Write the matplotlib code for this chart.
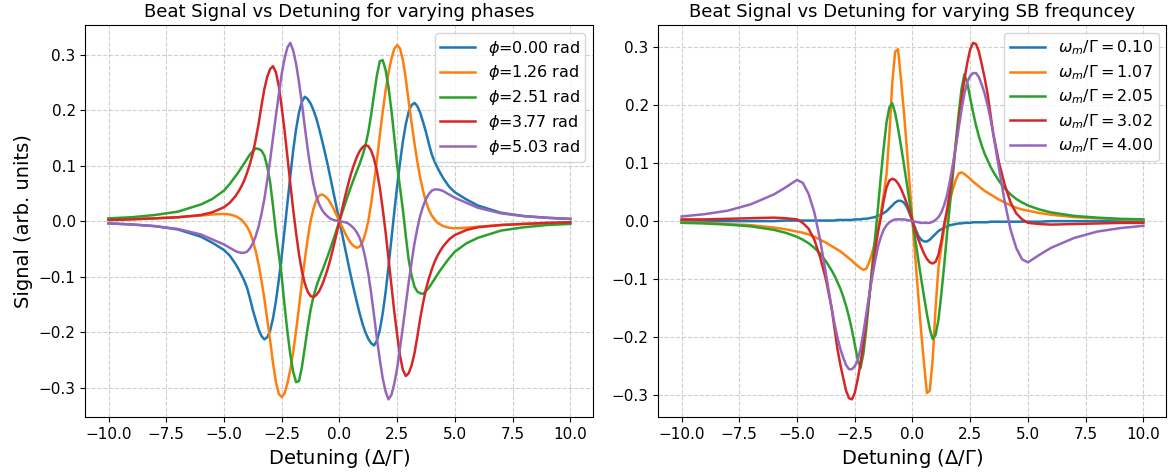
import matplotlib
matplotlib.use("Agg")
import matplotlib.pyplot as plt

# detuning samples (Delta/Gamma)
x_left = [-10, -9, -8, -7, -6, -5.5, -5, -4.75, -4.5, -4.375, -4.25, -4.125, -4, -3.875,
          -3.75, -3.625, -3.5, -3.375, -3.25, -3.125, -3, -2.875, -2.75, -2.625, -2.5,
          -2.375, -2.25, -2.125, -2, -1.875, -1.75, -1.625, -1.5, -1.375, -1.25, -1.125,
          -1, -0.875, -0.75, -0.625, -0.5, -0.375, -0.25, -0.125, 0,
          0.125, 0.25, 0.375, 0.5, 0.625, 0.75, 0.875, 1, 1.125, 1.25, 1.375, 1.5, 1.625,
          1.75, 1.875, 2, 2.125, 2.25, 2.375, 2.5, 2.625, 2.75, 2.875, 3, 3.125, 3.25,
          3.375, 3.5, 3.625, 3.75, 3.875, 4, 4.125, 4.25, 4.375, 4.5, 4.75, 5, 5.5, 6,
          7, 8, 9, 10]

x_right = [-10, -9, -8, -7, -6, -5.5, -5, -4.75, -4.5, -4.25, -4, -3.75, -3.5, -3.375,
           -3.25, -3.125, -3, -2.875, -2.75, -2.625, -2.5, -2.375, -2.25, -2.125, -2,
           -1.875, -1.75, -1.625, -1.5, -1.375, -1.25, -1.125, -1, -0.875, -0.75, -0.625,
           -0.5, -0.375, -0.25, -0.125, 0,
           0.125, 0.25, 0.375, 0.5, 0.625, 0.75, 0.875, 1, 1.125, 1.25, 1.375, 1.5, 1.625,
           1.75, 1.875, 2, 2.125, 2.25, 2.375, 2.5, 2.625, 2.75, 2.875, 3, 3.125, 3.25,
           3.375, 3.5, 3.75, 4, 4.25, 4.5, 4.75, 5, 5.5, 6, 7, 8, 9, 10]

# left panel: phases
phases = [0.00, 1.26, 2.51, 3.77, 5.03]

sig_phi0 = [-0.004, -0.006, -0.009, -0.015, -0.028, -0.039, -0.052, -0.062, -0.077, -0.086,
            -0.096, -0.107, -0.12, -0.139, -0.16, -0.178, -0.195, -0.207, -0.213, -0.209,
            -0.197, -0.175, -0.144, -0.106, -0.063, -0.016, 0.033, 0.082, 0.128, 0.166,
            0.196, 0.215, 0.224, 0.22, 0.212, 0.2, 0.185, 0.166, 0.145, 0.123, 0.1, 0.075,
            0.05, 0.025, 0,
            -0.025, -0.05, -0.075, -0.1, -0.123, -0.145, -0.166, -0.185, -0.2, -0.212,
            -0.22, -0.224, -0.215, -0.196, -0.166, -0.128, -0.082, -0.033, 0.016, 0.063,
            0.106, 0.144, 0.175, 0.197, 0.209, 0.213, 0.207, 0.195, 0.178, 0.16, 0.139,
            0.12, 0.107, 0.096, 0.086, 0.077, 0.062, 0.052, 0.039, 0.028, 0.015, 0.009,
            0.006, 0.004]
sig_phi1 = [0.003, 0.004, 0.005, 0.007, 0.01, 0.012, 0.013, 0.012, 0.009, 0.006, 0.003,
            -0.003, -0.01, -0.02, -0.035, -0.054, -0.078, -0.107, -0.14, -0.177, -0.215,
            -0.256, -0.29, -0.311, -0.317, -0.31, -0.292, -0.267, -0.235, -0.197, -0.155,
            -0.11, -0.07, -0.032, 0.0, 0.022, 0.038, 0.046, 0.048, 0.045, 0.04, 0.032,
            0.022, 0.011, 0,
            -0.011, -0.022, -0.032, -0.04, -0.045, -0.048, -0.046, -0.038, -0.022, 0.0,
            0.032, 0.07, 0.11, 0.155, 0.197, 0.235, 0.267, 0.292, 0.31, 0.317, 0.311, 0.29,
            0.256, 0.215, 0.177, 0.14, 0.107, 0.078, 0.054, 0.035, 0.02, 0.01, 0.003,
            -0.003, -0.006, -0.009, -0.012, -0.013, -0.012, -0.01, -0.007, -0.005, -0.004,
            -0.003]
sig_phi2 = [0.005, 0.007, 0.011, 0.017, 0.03, 0.04, 0.055, 0.067, 0.081, 0.088, 0.096,
            0.104, 0.112, 0.12, 0.126, 0.131, 0.13, 0.127, 0.118, 0.098, 0.07, 0.027,
            -0.02, -0.06, -0.1, -0.152, -0.2, -0.241, -0.272, -0.29, -0.288, -0.263,
            -0.228, -0.192, -0.16, -0.136, -0.118, -0.103, -0.09, -0.076, -0.062, -0.047,
            -0.032, -0.016, 0,
            0.016, 0.032, 0.047, 0.062, 0.076, 0.09, 0.103, 0.118, 0.136, 0.16, 0.192,
            0.228, 0.263, 0.288, 0.29, 0.272, 0.241, 0.2, 0.152, 0.1, 0.06, 0.02, -0.027,
            -0.07, -0.098, -0.118, -0.127, -0.13, -0.131, -0.126, -0.12, -0.112, -0.104,
            -0.096, -0.088, -0.081, -0.067, -0.055, -0.04, -0.03, -0.017, -0.011, -0.007,
            -0.005]
sig_phi3 = [0.002, 0.003, 0.005, 0.007, 0.011, 0.016, 0.025, 0.033, 0.045, 0.053, 0.062,
            0.073, 0.087, 0.103, 0.122, 0.147, 0.175, 0.208, 0.238, 0.26, 0.274, 0.279,
            0.268, 0.243, 0.205, 0.163, 0.115, 0.067, 0.02, -0.022, -0.06, -0.09, -0.112,
            -0.127, -0.135, -0.137, -0.133, -0.126, -0.115, -0.101, -0.085, -0.066,
            -0.045, -0.023, 0,
            0.023, 0.045, 0.066, 0.085, 0.101, 0.115, 0.126, 0.133, 0.137, 0.135, 0.127,
            0.112, 0.09, 0.06, 0.022, -0.02, -0.067, -0.115, -0.163, -0.205, -0.243,
            -0.268, -0.279, -0.274, -0.26, -0.238, -0.208, -0.175, -0.147, -0.122, -0.103,
            -0.087, -0.073, -0.062, -0.053, -0.045, -0.033, -0.025, -0.016, -0.011,
            -0.007, -0.005, -0.003, -0.002]
sig_phi4 = [-0.004, -0.006, -0.009, -0.014, -0.024, -0.033, -0.042, -0.048, -0.054, -0.056,
            -0.057, -0.057, -0.055, -0.049, -0.04, -0.027, -0.01, 0.013, 0.04, 0.074, 0.11,
            0.15, 0.19, 0.228, 0.265, 0.293, 0.313, 0.321, 0.307, 0.283, 0.25, 0.212, 0.17,
            0.13, 0.095, 0.067, 0.045, 0.03, 0.02, 0.013, 0.008, 0.004, 0.002, 0.001, 0,
            -0.001, -0.002, -0.004, -0.008, -0.013, -0.02, -0.03, -0.045, -0.067, -0.095,
            -0.13, -0.17, -0.212, -0.25, -0.283, -0.307, -0.321, -0.313, -0.293, -0.265,
            -0.228, -0.19, -0.15, -0.11, -0.074, -0.04, -0.013, 0.01, 0.027, 0.04, 0.049,
            0.055, 0.057, 0.057, 0.056, 0.054, 0.048, 0.042, 0.033, 0.024, 0.014, 0.009,
            0.006, 0.004]

# right panel: sideband frequencies
wm = [0.10, 1.07, 2.05, 3.02, 4.00]

sig_wm0 = [0, 0, 0, 0, 0, 0.001, 0.001, 0.001, 0.001, 0.001, 0.001, 0.001, 0.001, 0.001,
           0.002, 0.002, 0.002, 0.002, 0.002, 0.002, 0.003, 0.003, 0.003, 0.004, 0.004,
           0.005, 0.006, 0.007, 0.009, 0.011, 0.014, 0.017, 0.022, 0.027, 0.032, 0.035,
           0.035, 0.032, 0.025, 0.013, 0,
           -0.013, -0.025, -0.032, -0.035, -0.035, -0.032, -0.027, -0.022, -0.017, -0.014,
           -0.011, -0.009, -0.007, -0.006, -0.005, -0.004, -0.004, -0.003, -0.003, -0.003,
           -0.002, -0.002, -0.002, -0.002, -0.002, -0.002, -0.001, -0.001, -0.001, -0.001,
           -0.001, -0.001, -0.001, -0.001, -0.001, 0, 0, 0, 0, 0]
sig_wm1 = [-0.002, -0.003, -0.005, -0.007, -0.011, -0.014, -0.018, -0.02, -0.023, -0.027,
           -0.032, -0.037, -0.043, -0.046, -0.049, -0.052, -0.056, -0.06, -0.064, -0.068,
           -0.073, -0.077, -0.081, -0.084, -0.082, -0.071, -0.055, -0.037, -0.015, 0.012,
           0.045, 0.08, 0.15, 0.238, 0.292, 0.296, 0.245, 0.19, 0.128, 0.064, 0,
           -0.064, -0.128, -0.19, -0.245, -0.296, -0.292, -0.238, -0.15, -0.08, -0.045,
           -0.012, 0.015, 0.037, 0.055, 0.071, 0.082, 0.084, 0.081, 0.077, 0.073, 0.068,
           0.064, 0.06, 0.056, 0.052, 0.049, 0.046, 0.043, 0.037, 0.032, 0.027, 0.023,
           0.02, 0.018, 0.014, 0.011, 0.007, 0.005, 0.003, 0.002]
sig_wm2 = [-0.003, -0.004, -0.006, -0.009, -0.015, -0.02, -0.027, -0.032, -0.038, -0.046,
           -0.056, -0.069, -0.085, -0.094, -0.105, -0.116, -0.13, -0.146, -0.165, -0.187,
           -0.212, -0.238, -0.253, -0.228, -0.185, -0.135, -0.08, -0.03, 0.02, 0.075,
           0.125, 0.17, 0.196, 0.203, 0.186, 0.16, 0.13, 0.099, 0.066, 0.033, 0,
           -0.033, -0.066, -0.099, -0.13, -0.16, -0.186, -0.203, -0.196, -0.17, -0.125,
           -0.075, -0.02, 0.03, 0.08, 0.135, 0.185, 0.228, 0.253, 0.238, 0.212, 0.187,
           0.165, 0.146, 0.13, 0.116, 0.105, 0.094, 0.085, 0.069, 0.056, 0.046, 0.038,
           0.032, 0.027, 0.02, 0.015, 0.009, 0.006, 0.004, 0.003]
sig_wm3 = [0.003, 0.003, 0.004, 0.005, 0.006, 0.005, 0.003, -0.003, -0.013, -0.032, -0.062,
           -0.1, -0.15, -0.185, -0.22, -0.247, -0.27, -0.292, -0.305, -0.307, -0.296,
           -0.273, -0.245, -0.21, -0.17, -0.13, -0.09, -0.053, -0.02, 0.005, 0.035, 0.058,
           0.07, 0.073, 0.071, 0.065, 0.056, 0.044, 0.031, 0.016, 0,
           -0.016, -0.031, -0.044, -0.056, -0.065, -0.071, -0.073, -0.07, -0.058, -0.035,
           -0.005, 0.02, 0.053, 0.09, 0.13, 0.17, 0.21, 0.245, 0.273, 0.296, 0.307, 0.305,
           0.292, 0.27, 0.247, 0.22, 0.185, 0.15, 0.1, 0.062, 0.032, 0.013, 0.003, -0.003,
           -0.005, -0.006, -0.005, -0.004, -0.003, -0.003]
sig_wm4 = [0.008, 0.012, 0.018, 0.029, 0.046, 0.058, 0.071, 0.066, 0.047, 0.015, -0.032,
           -0.09, -0.15, -0.177, -0.2, -0.22, -0.235, -0.248, -0.255, -0.255, -0.25, -0.24,
           -0.22, -0.192, -0.16, -0.128, -0.098, -0.07, -0.045, -0.028, -0.015, -0.007,
           -0.002, 0.001, 0.003, 0.003, 0.003, 0.003, 0.002, 0.001, 0,
           -0.001, -0.002, -0.003, -0.003, -0.003, -0.003, -0.001, 0.002, 0.007, 0.015,
           0.028, 0.045, 0.07, 0.098, 0.128, 0.16, 0.192, 0.22, 0.24, 0.25, 0.255, 0.255,
           0.248, 0.235, 0.22, 0.2, 0.177, 0.15, 0.09, 0.032, -0.015, -0.047, -0.066,
           -0.071, -0.058, -0.046, -0.029, -0.018, -0.012, -0.008]

left_series = [sig_phi0, sig_phi1, sig_phi2, sig_phi3, sig_phi4]
right_series = [sig_wm0, sig_wm1, sig_wm2, sig_wm3, sig_wm4]

fig, (ax1, ax2) = plt.subplots(1, 2, figsize=(11.7, 4.73), dpi=100)

leg_kw = dict(loc='upper right', fontsize=11.5, labelspacing=0.36, handlelength=2.2,
              borderpad=0.35)

for p, s in zip(phases, left_series):
    ax1.plot(x_left, s, linewidth=1.8, label=f'$\\phi$={p:.2f} rad')
ax1.set_title('Beat Signal vs Detuning for varying phases', fontsize=13)
ax1.set_xlabel('Detuning ($\\Delta/\\Gamma$)', fontsize=14)
ax1.set_ylabel('Signal (arb. units)', fontsize=14)
ax1.legend(**leg_kw)

for w, s in zip(wm, right_series):
    ax2.plot(x_right, s, linewidth=1.8, label=f'$\\omega_m/\\Gamma = {w:.2f}$')
ax2.set_title('Beat Signal vs Detuning for varying SB frequncey', fontsize=13)
ax2.set_xlabel('Detuning ($\\Delta/\\Gamma$)', fontsize=14)
ax2.legend(**leg_kw)

for ax in (ax1, ax2):
    ax.grid(True, linestyle='--', alpha=0.6)
    ax.tick_params(labelsize=11)

plt.subplots_adjust(left=0.073, right=0.997, bottom=0.118, top=0.947, wspace=0.128)
plt.savefig('out.png', dpi=100)
